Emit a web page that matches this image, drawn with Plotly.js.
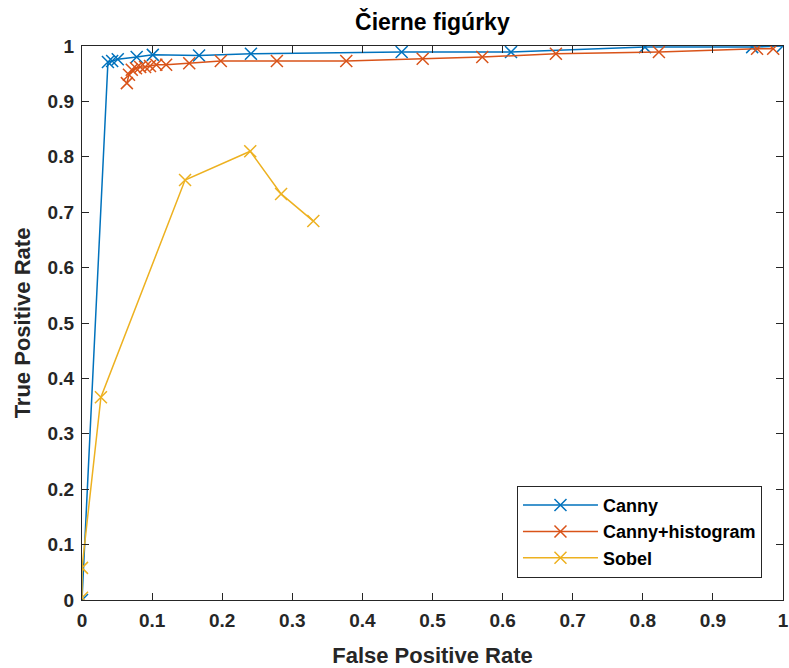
<!DOCTYPE html>
<html>
<head>
<meta charset="utf-8">
<script src="https://cdn.plot.ly/plotly-3.0.1.min.js"></script>
<style>html,body{margin:0;padding:0;background:#fff;}#chart{width:789px;height:668px;}</style>
</head>
<body>
<div id="chart"></div>
<script>
// Canny
var cannyFPR = [0, 0.037, 0.043, 0.051, 0.078, 0.101, 0.167, 0.241, 0.456, 0.612, 0.803, 0.956, 1.0];
var cannyTPR = [0, 0.971, 0.973, 0.976, 0.980, 0.984, 0.983, 0.986, 0.989, 0.989, 0.998, 0.998, 1.0];
// Canny+histogram
var histFPR = [0.064, 0.067, 0.071, 0.077, 0.083, 0.090, 0.097, 0.106, 0.120, 0.153, 0.198, 0.278, 0.377, 0.486, 0.571, 0.676, 0.823, 0.963, 0.986];
var histTPR = [0.933, 0.948, 0.957, 0.960, 0.962, 0.962, 0.964, 0.966, 0.966, 0.969, 0.973, 0.973, 0.973, 0.977, 0.980, 0.986, 0.989, 0.995, 0.995];
// Sobel
var sobelFPR = [0, 0, 0.027, 0.147, 0.240, 0.284, 0.330];
var sobelTPR = [0.004, 0.058, 0.366, 0.758, 0.810, 0.733, 0.684];

var tickVals = [0, 0.1, 0.2, 0.3, 0.4, 0.5, 0.6, 0.7, 0.8, 0.9, 1];
var tickText = ['0', '0.1', '0.2', '0.3', '0.4', '0.5', '0.6', '0.7', '0.8', '0.9', '1'];
var seriesNames = ['Canny', 'Canny+histogram', 'Sobel'];
var colors = ['#0072BD', '#D95319', '#EDB120'];

var FONT = 'Liberation Sans, Arial, sans-serif';

function trace(x, y, i) {
  return {
    x: x, y: y, name: seriesNames[i], type: 'scatter', mode: 'lines+markers',
    line: {color: colors[i], width: 1.5},
    marker: {symbol: 'x-thin-open', size: 12, line: {color: colors[i], width: 1.5}, color: colors[i]}
  };
}

var data = [trace(cannyFPR, cannyTPR, 0), trace(histFPR, histTPR, 1), trace(sobelFPR, sobelTPR, 2)];

var axisCommon = {
  tickvals: tickVals, ticktext: tickText, ticks: 'inside', ticklen: 7, tickwidth: 1,
  tickcolor: '#262626', showline: true, linecolor: '#262626', linewidth: 1.2,
  mirror: 'ticks', showgrid: false, zeroline: false, ticklabeloverflow: 'allow',
  ticklabelstandoff: 3,
  tickfont: {family: FONT, size: 19, color: '#262626', weight: 'bold'}
};

var layout = {
  width: 789, height: 668,
  margin: {l: 82, r: 6, t: 46, b: 68},
  paper_bgcolor: '#fff', plot_bgcolor: '#fff',
  font: {family: FONT, color: '#262626'},
  title: {text: '<b>Čierne figúrky</b>', x: 0.548, xanchor: 'center', y: 0.967, yanchor: 'middle',
    font: {family: FONT, size: 23, color: '#000'}},
  xaxis: Object.assign({}, axisCommon, {range: [0, 1],
    title: {text: '<b>False Positive Rate</b>', standoff: 17, font: {size: 22, color: '#262626', family: FONT}}}),
  yaxis: Object.assign({}, axisCommon, {range: [0, 1],
    title: {text: '<b>True Positive Rate</b>', standoff: 10, font: {size: 22, color: '#262626', family: FONT}}}),
  showlegend: true,
  legend: {x: 0.970, y: 0.040, xanchor: 'right', yanchor: 'bottom', bgcolor: '#fff',
    bordercolor: '#262626', borderwidth: 1, itemwidth: 75, tracegroupgap: 0,
    font: {family: FONT, size: 18, color: '#000', weight: 'bold'}}
};

Plotly.newPlot('chart', data, layout, {displayModeBar: false, staticPlot: true});
</script>
</body>
</html>
